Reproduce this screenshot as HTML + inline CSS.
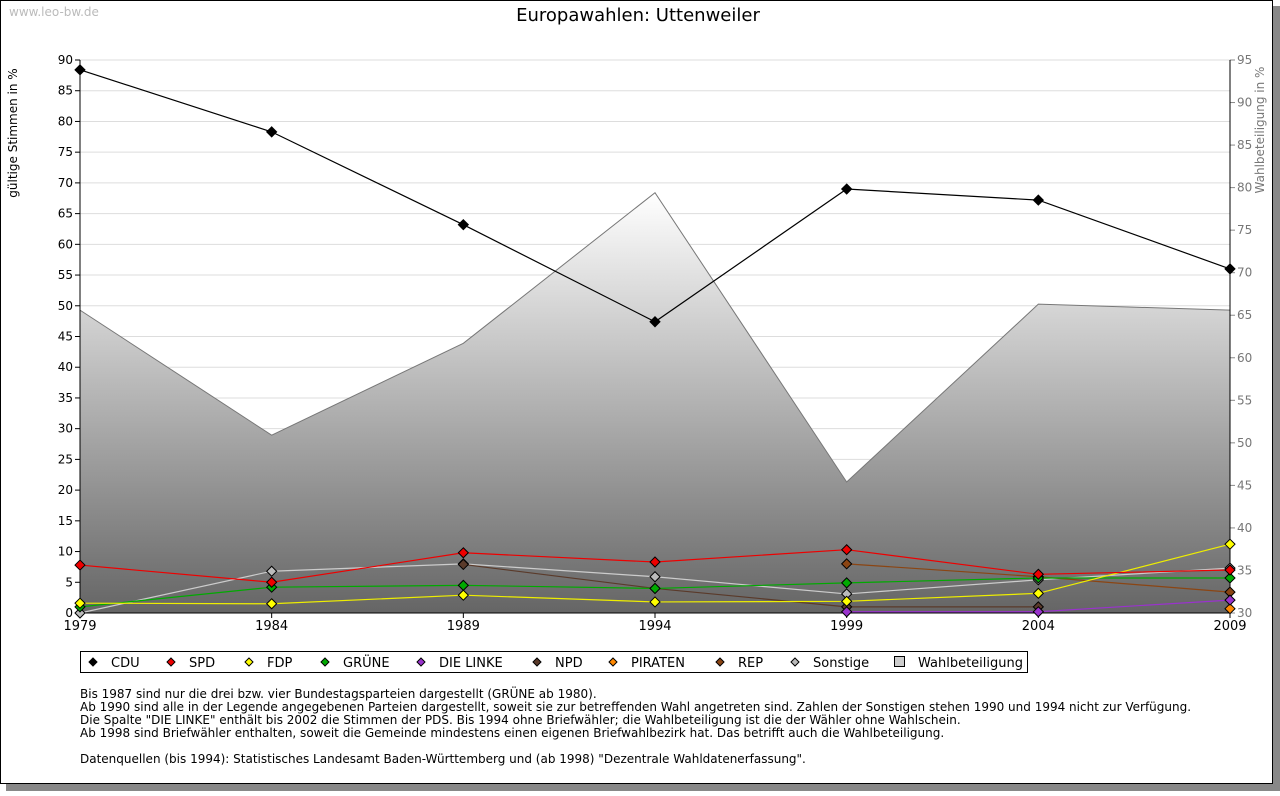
<!DOCTYPE html>
<html><head><meta charset="utf-8"><style>
body{margin:0;background:#fff;font-family:"Liberation Sans","DejaVu Sans",sans-serif}
svg text{font-family:"DejaVu Sans","Liberation Sans",sans-serif}
</style></head><body>
<svg id="chart" width="1280" height="791" viewBox="0 0 1280 791" xmlns="http://www.w3.org/2000/svg">
<defs>
<linearGradient id="wg" x1="0" y1="0" x2="0" y2="1">
<stop offset="0" stop-color="#ffffff"/><stop offset="1" stop-color="#656565"/>
</linearGradient>
</defs>
<rect x="6" y="6" width="1274" height="785" fill="#888"/>
<rect x="0.5" y="0.5" width="1272" height="783" fill="#fff" stroke="#000"/>
<text x="9" y="16" font-size="12" fill="#bbb">www.leo-bw.de</text>
<text x="638" y="21" font-size="18" text-anchor="middle" fill="#000">Europawahlen: Uttenweiler</text>
<text transform="translate(17,133) rotate(-90)" font-size="12" text-anchor="middle">gültige Stimmen in %</text>
<text transform="translate(1264,130) rotate(-90)" font-size="12" fill="#777" text-anchor="middle">Wahlbeteiligung in %</text>
<g id="grid"></g><g id="area"></g><g id="axes"></g><g id="lines"></g>
<g id="legend"></g>
<g font-size="12" fill="#000">
<text x="80" y="698">Bis 1987 sind nur die drei bzw. vier Bundestagsparteien dargestellt (GRÜNE ab 1980).</text>
<text x="80" y="711">Ab 1990 sind alle in der Legende angegebenen Parteien dargestellt, soweit sie zur betreffenden Wahl angetreten sind. Zahlen der Sonstigen stehen 1990 und 1994 nicht zur Verfügung.</text>
<text x="80" y="724">Die Spalte "DIE LINKE" enthält bis 2002 die Stimmen der PDS. Bis 1994 ohne Briefwähler; die Wahlbeteiligung ist die der Wähler ohne Wahlschein.</text>
<text x="80" y="737">Ab 1998 sind Briefwähler enthalten, soweit die Gemeinde mindestens einen eigenen Briefwahlbezirk hat. Das betrifft auch die Wahlbeteiligung.</text>
<text x="80" y="763">Datenquellen (bis 1994): Statistisches Landesamt Baden-Württemberg und (ab 1998) "Dezentrale Wahldatenerfassung".</text>
</g>
</svg>
<script>
const years=[1979,1984,1989,1994,1999,2004,2009];
const turnout=[65.6,50.9,61.7,79.4,45.4,66.3,65.6];
const cdu=[88.4,78.3,63.2,47.4,69.0,67.2,56.0];
const spd=[7.8,5.0,9.8,8.3,10.3,6.3,7.0];
const fdp=[1.6,1.5,2.9,1.8,1.9,3.2,11.2];
const gruene=[1.0,4.2,4.5,4.0,4.9,5.7,5.7];
const linke=[null,null,null,null,0.2,0.2,2.1];
const npd=[null,null,7.9,4.0,1.0,1.0,null];
const piraten=[null,null,null,null,null,null,0.7];
const rep=[null,null,null,null,8.0,5.9,3.4];
const sonstige=[0,6.8,8.0,5.9,3.1,5.4,7.3];
const leftTicks=[0,5,10,15,20,25,30,35,40,45,50,55,60,65,70,75,80,85,90];
const rightTicks=[30,35,40,45,50,55,60,65,70,75,80,85,90,95];
const NS='http://www.w3.org/2000/svg';
const X0=80,X1=1230,Y0=613,Y1=60;
const xS=i=>X0+(X1-X0)*(years[i]-years[0])/(years[years.length-1]-years[0]);
const yL=v=>Y0-(Y0-Y1)*v/90;
const yR=v=>Y0-(Y0-Y1)*(v-30)/65;
function mk(tag,attrs,parent){const e=document.createElementNS(NS,tag);for(const k in attrs)e.setAttribute(k,attrs[k]);document.getElementById(parent).appendChild(e);return e;}
leftTicks.forEach(t=>{
 if(t>0){const g=mk('line',{x1:X0,x2:X1,y1:yL(t),y2:yL(t),stroke:'#ddd'},'grid');
 
 }
 const l=mk('line',{x1:X0-5,x2:X0,y1:yL(t),y2:yL(t),stroke:'#000'},'axes');
 
 
 const tx=mk('text',{x:X0-7,y:yL(t)+4,'font-size':12,'text-anchor':'end'},'axes');tx.textContent=t;
 
 
});
rightTicks.forEach(t=>{
 const l=mk('line',{x1:X1,x2:X1+5,y1:yR(t),y2:yR(t),stroke:'#888'},'axes');
 
 
 const tx=mk('text',{x:X1+7,y:yR(t)+4,'font-size':12,fill:'#777'},'axes');tx.textContent=t;
 
 
});
let d='M'+xS(0)+','+Y0;years.forEach((y,i)=>d+=' L'+xS(i)+','+yR(turnout[i]));d+=' L'+xS(years.length-1)+','+Y0+' Z';
const ar=mk('path',{d:d,fill:'url(#wg)',stroke:'none'},'area');


let d2='';years.forEach((y,i)=>d2+=(i?' L':'M')+xS(i)+','+yR(turnout[i]));
const al=mk('path',{d:d2,fill:'none',stroke:'#777'},'area');


const ax=mk('path',{d:`M${X0},${Y1} V${Y0} H${X1} V${Y1}`,fill:'none',stroke:'#000'},'axes');


years.forEach((y,i)=>{
 const l=mk('line',{x1:xS(i),x2:xS(i),y1:Y0,y2:Y0+5,stroke:'#000'},'axes');
 
 
 const t=mk('text',{x:xS(i),y:Y0+17,'font-size':13,'text-anchor':'middle'},'axes');t.textContent=y;
 
 
});
const series=[['cdu',cdu,'#000','#000'],['spd',spd,'#e00','#e00'],['fdp',fdp,'#ff0','#ee0'],['gruene',gruene,'#0a0','#0a0'],['linke',linke,'#9933cc','#9933cc'],['npd',npd,'#5a3a2a','#5a3a2a'],['piraten',piraten,'#f80','#f80'],['rep',rep,'#8b4513','#8b4513'],['sonstige',sonstige,'#bbb','#ccc']];
const order=['sonstige','piraten','npd','rep','linke','gruene','fdp','spd','cdu'];
order.forEach(nm=>{
 const s=series.find(q=>q[0]===nm);const vals=s[1];
 let p='',pen=false;vals.forEach((v,i)=>{if(v===null){pen=false;return;}p+=(pen?' L':' M')+xS(i)+','+yL(v);pen=true;});
 const ln=mk('path',{d:p,fill:'none',stroke:s[3],'stroke-width':1.2},'lines');
 
 
 vals.forEach((v,i)=>{if(v===null)return;const cx=xS(i),cy=yL(v);
  const m=mk('path',{d:`M${cx},${cy-5} L${cx+5},${cy} L${cx},${cy+5} L${cx-5},${cy} Z`,fill:s[2],stroke:'#000','stroke-width':1},'lines');
  
  });
});
const lb=mk('rect',{x:80.5,y:651.5,width:947,height:21,fill:'#fff',stroke:'#000'},'legend');


const leg=[['CDU','#000',93],['SPD','#e00',171],['FDP','#ff0',249],['GRÜNE','#0a0',325],['DIE LINKE','#9933cc',421],['NPD','#5a3a2a',537],['PIRATEN','#f80',613],['REP','#8b4513',720],['Sonstige','#bbb',795]];
leg.forEach(e=>{
 const cx=e[2],cy=662;
 const m=mk('path',{d:`M${cx},${cy-4} L${cx+4},${cy} L${cx},${cy+4} L${cx-4},${cy} Z`,fill:e[1],stroke:'#000'},'legend');
 
 
 const t=mk('text',{x:cx+18,y:667,'font-size':13},'legend');t.textContent=e[0];
 
 
});
const wb=mk('rect',{x:894.5,y:656.5,width:10,height:10,fill:'#ccc',stroke:'#000'},'legend');


const wt=mk('text',{x:918,y:667,'font-size':13},'legend');wt.textContent='Wahlbeteiligung';


</script>
</body></html>
